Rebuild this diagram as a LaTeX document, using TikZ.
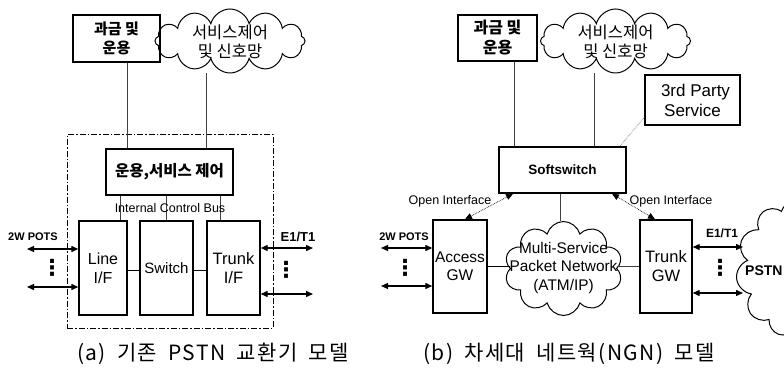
\documentclass[tikz,border=0pt]{standalone}
\usepackage{fontspec}
\setmainfont{Liberation Sans}
\newfontfamily\kr{Noto Sans CJK KR}
\newfontfamily\krcap[WordSpace=1.8,LetterSpace=7]{Noto Sans CJK KR}
\newfontfamily\sym{DejaVu Sans}
\usetikzlibrary{shapes.symbols,arrows.meta,calc}
\tikzset{
 box/.style={draw, line width=1.4pt, inner sep=0pt, align=center},
 conn/.style={line width=0.6pt, black!75},
 hconn/.style={line width=1pt},
 oi/.style={line width=0.7pt, densely dotted, {Triangle[length=7pt,width=6pt]}-{Triangle[length=7pt,width=6pt]}},
 dbl/.style={line width=1.3pt, {Triangle[length=7pt,width=6pt]}-{Triangle[length=7pt,width=6pt]}},
 cld/.style={draw, cloud, cloud puffs=10, cloud ignores aspect, line width=1pt, inner sep=0pt},
 topcld/.style={cld, cloud puffs=12, minimum width=150pt, minimum height=64pt},
 ctext/.style={inner sep=0pt, align=center},
 dashframe/.style={draw, line width=1pt, dash pattern=on 6pt off 2pt on 1.5pt off 2pt, inner sep=0pt},
 dotsym/.style={font=\sym\bfseries\fontsize{22}{22}\selectfont, inner sep=0pt},
 lbl/.style={inner sep=0pt, font=\bfseries\fontsize{11}{13}\selectfont},
 oilbl/.style={inner sep=0pt, font=\fontsize{12.5}{14}\selectfont},
 captxt/.style={inner sep=0pt, font=\krcap\fontsize{21}{24}\selectfont},
}
\begin{document}
\begin{tikzpicture}[x=1pt,y=-1pt]
\useasboundingbox (0,0) rectangle (784,374);
% ---------------- (a) ----------------
\node[box, minimum width=87pt, minimum height=47pt, font=\kr\bfseries\fontsize{15}{19}\selectfont] (billA) at (116.5,38.5) {과금 및\\운용};
\node[topcld] (cloudA) at (230,41) {};
\node[ctext, font=\kr\fontsize{16.5}{19}\selectfont] (cloudAt) at (230,42) {서비스제어\\및 신호망};
\node[dashframe, minimum width=206pt, minimum height=193pt] (frameA) at (170,231.5) {};
\node[box, minimum width=127pt, minimum height=46pt, font=\kr\bfseries\fontsize{15.5}{18}\selectfont] (ctrlA) at (169.5,172) {운용,서비스 제어};
\node[box, minimum width=48pt, minimum height=94pt, font=\fontsize{16}{19}\selectfont] (lineIF) at (103,268) {Line\\I/F};
\node[box, minimum width=53pt, minimum height=94pt, font=\fontsize{15}{18}\selectfont] (switch) at (166.5,268) {Switch};
\node[box, minimum width=53pt, minimum height=94pt, font=\fontsize{16.5}{19}\selectfont] (trunkIF) at (233.5,268) {Trunk\\I/F};
\coordinate (xa1) at (127,0);
\coordinate (xa2) at (206,0);
\coordinate (xb1) at (120,0);
\coordinate (xb2) at (166,0);
\coordinate (xb3) at (220,0);
\draw[conn] (billA.south -| xa1) -- (ctrlA.north -| xa1);
\draw[conn] (cloudA.south -| xa2) -- (ctrlA.north -| xa2);
\draw[conn] (ctrlA.south -| xb1) -- (lineIF.north -| xb1);
\draw[conn] (ctrlA.south -| xb2) -- (switch.north -| xb2);
\draw[conn] (ctrlA.south -| xb3) -- (trunkIF.north -| xb3);
\node[inner sep=0pt, font=\fontsize{12.5}{14}\selectfont] (icb) at (170,208) {Internal Control Bus};
\draw[hconn] ([yshift=-2pt]lineIF.east) -- ([yshift=-2pt]switch.west);
\draw[hconn] ([yshift=-2pt]switch.east) -- ([yshift=-2pt]trunkIF.west);
\coordinate (pa1) at (27,249);
\coordinate (pa2) at (27,287);
\draw[dbl] (pa1) -- (pa1 -| lineIF.west);
\draw[dbl] (pa2) -- (pa2 -| lineIF.west);
\coordinate (ea1) at (313,248);
\coordinate (ea2) at (313,294);
\draw[dbl] (trunkIF.east |- ea1) -- (ea1);
\draw[dbl] (trunkIF.east |- ea2) -- (ea2);
\node[lbl] (potsA) at (33,237) {2W POTS};
\node[lbl, font=\bfseries\fontsize{13}{15}\selectfont] (e1A) at (298,237) {E1/T1};
\node[dotsym] (dotsA1) at (52,268) {⋮};
\node[dotsym] (dotsA2) at (286,270) {⋮};
\node[captxt] (capA) at (213,354) {(a) 기존 PSTN 교환기 모델};
% ---------------- (b) ----------------
\node[box, minimum width=79pt, minimum height=46pt, font=\kr\bfseries\fontsize{16}{20}\selectfont] (billB) at (497.5,38) {과금 및\\운용};
\node[topcld] (cloudB) at (615.5,41) {};
\node[ctext, font=\kr\fontsize{16.5}{19}\selectfont] (cloudBt) at (615.5,42) {서비스제어\\및 신호망};
\node[box, line width=1.1pt, minimum width=95pt, minimum height=50pt, font=\fontsize{17}{20}\selectfont] (third) at (692.5,100) {\hspace*{6pt}3rd Party\\Service};
\node[box, minimum width=127pt, minimum height=46pt, font=\bfseries\fontsize{13.5}{16}\selectfont] (soft) at (562.5,170) {Softswitch};
\node[box, minimum width=54pt, minimum height=93pt, font=\fontsize{15.5}{18}\selectfont] (access) at (460,266.5) {Access\\GW};
\node[cld, minimum width=118pt, minimum height=94pt] (msn) at (563.5,268.5) {};
\node[ctext, font=\fontsize{15.4}{18.5}\selectfont] (msnt) at (563.5,268) {Multi-Service\\Packet Network\\(ATM/IP)};
\node[box, minimum width=52pt, minimum height=93pt, font=\fontsize{16.5}{19}\selectfont] (trunkGW) at (666,266.5) {Trunk\\GW};
\node[cld, cloud puffs=11, minimum width=118pt, minimum height=136pt] (pstn) at (795,269) {};
\node[inner sep=0pt, anchor=west, font=\bfseries\fontsize{14}{16}\selectfont] (pstnl) at (745,271) {PSTN};
\coordinate (xc1) at (514,0);
\coordinate (xc2) at (594,0);
\coordinate (xc3) at (620,0);
\coordinate (xc4) at (560,0);
\coordinate (xd1) at (513,0);
\coordinate (xd2) at (465,0);
\coordinate (xd3) at (612,0);
\coordinate (xd4) at (655,0);
\coordinate (yt) at (0,117);
\draw[conn] (billB.south -| xc1) -- (soft.north -| xc1);
\draw[conn] (cloudB.south -| xc2) -- (soft.north -| xc2);
\draw[conn, densely dotted] (third.west |- yt) -- (soft.north -| xc3);
\draw[conn] (soft.south -| xc4) -- (msn.north -| xc4);
\draw[hconn] (access.east) -- (access.east -| msn.west);
\draw[conn] (trunkGW.west) -- (trunkGW.west -| msn.east);
\draw[oi] (soft.south -| xd1) -- (access.north -| xd2);
\draw[oi] (soft.south -| xd3) -- (trunkGW.north -| xd4);
\node[oilbl] (oil) at (450,201) {Open Interface};
\node[oilbl] (oir) at (671,201) {Open Interface};
\coordinate (pb1) at (381,248);
\coordinate (pb2) at (381,286);
\draw[dbl] (pb1) -- (pb1 -| access.west);
\draw[dbl] (pb2) -- (pb2 -| access.west);
\node[lbl] (potsB) at (404,237) {2W POTS};
\node[dotsym] (dotsB1) at (405,268) {⋮};
\coordinate (eb1) at (743,247);
\coordinate (eb2) at (743,293);
\draw[dbl] (trunkGW.east |- eb1) -- (eb1);
\draw[dbl] (trunkGW.east |- eb2) -- (eb2);
\node[lbl, font=\bfseries\fontsize{12}{14}\selectfont] (e1B) at (722,233) {E1/T1};
\node[dotsym] (dotsB2) at (720,268) {⋮};
\node[captxt] (capB) at (569,354) {(b) 차세대 네트웍(NGN) 모델};
\end{tikzpicture}
\end{document}
